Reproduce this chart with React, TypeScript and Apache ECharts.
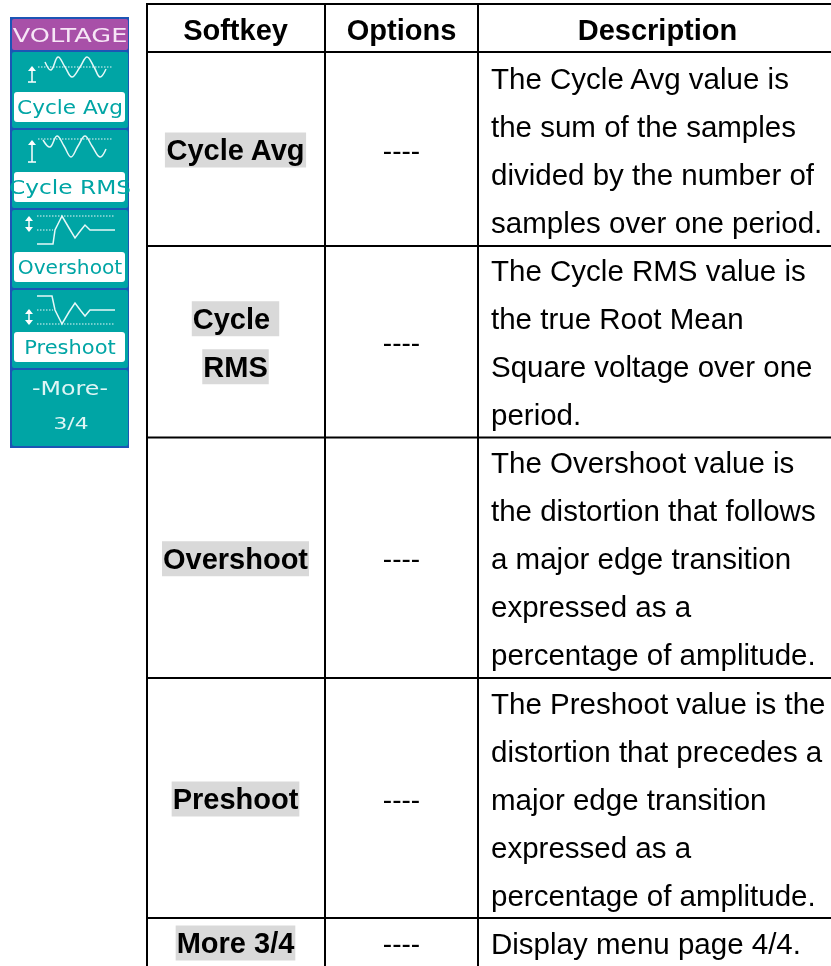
import React, { useEffect, useRef } from "react";
import * as echarts from "echarts";

const headers = ["Softkey", "Options", "Description"];
const softkeys = [["Cycle Avg"], ["Cycle ", "RMS"], ["Overshoot"], ["Preshoot"], ["More 3/4"]];
const optionLabel = "----";
const descriptions = [
  ["The Cycle Avg value is", "the sum of the samples", "divided by the number of", "samples over one period."],
  ["The Cycle RMS value is", "the true Root Mean", "Square voltage over one", "period."],
  ["The Overshoot value is", "the distortion that follows", "a major edge transition", "expressed as a", "percentage of amplitude."],
  ["The Preshoot value is the", "distortion that precedes a", "major edge transition", "expressed as a", "percentage of amplitude."],
  ["Display menu page 4/4."],
];
const menuTitle = "VOLTAGE";
const menuButtons = ["Cycle Avg", "Cycle RMS", "Overshoot", "Preshoot"];
const moreLabels = ["-More-", "3/4"];

const SANS = "'Liberation Sans', Arial, sans-serif";
const MENU = "'DejaVu Sans', sans-serif";
const TEAL = "#00a5a5";
const BLUE = "#1c55b5";

const colX = [147, 325, 478, 831];
const rowY = [4, 52, 246, 437.5, 678, 918, 966];

function App() {
  const ref = useRef<HTMLDivElement>(null);
  useEffect(() => {
    const chart = echarts.init(ref.current!, null, { renderer: "svg" });
    const g: any[] = [];
    const line = (x1: number, y1: number, x2: number, y2: number, stroke = "#000", lineWidth = 2, extra: any = {}) =>
      g.push({ type: "line", shape: { x1, y1, x2, y2 }, style: { stroke, lineWidth, ...extra } });
    const text = (t: string, x: number, y: number, font: string, fill: string, align = "center", extra: any = {}, scaleX = 1) =>
      g.push({ type: "text", x, y, scaleX, style: { text: t, font, fill, align, verticalAlign: "middle", ...extra } });
    const rect = (x: number, y: number, w: number, h: number, fill: string, r = 0) =>
      g.push({ type: "rect", shape: { x, y, width: w, height: h, r }, style: { fill } });
    const poly = (points: number[][], smooth = 0) =>
      g.push({ type: "polyline", shape: { points, smooth }, style: { stroke: "#e6f8f8", lineWidth: 1.5, fill: "none" } });
    const dots = (x1: number, x2: number, y: number) => line(x1, y, x2, y, "#e6f8f8", 1.2, { lineDash: [1.5, 1.5] });
    const arrowUp = (x: number, y1: number, y2: number) => {
      line(x, y1, x, y2, "#fff", 1.5);
      line(x - 4, y2, x + 4, y2, "#fff", 1.5);
      g.push({ type: "polygon", shape: { points: [[x, y1 - 2], [x - 4, y1 + 3], [x + 4, y1 + 3]] }, style: { fill: "#fff" } });
    };
    const arrowBoth = (x: number, y1: number, y2: number) => {
      line(x, y1, x, y2, "#fff", 1.5);
      g.push({ type: "polygon", shape: { points: [[x, y1 - 1], [x - 4, y1 + 4], [x + 4, y1 + 4]] }, style: { fill: "#fff" } });
      g.push({ type: "polygon", shape: { points: [[x, y2 + 1], [x - 4, y2 - 4], [x + 4, y2 - 4]] }, style: { fill: "#fff" } });
    };

    // Softkey menu
    rect(10, 17, 119, 431, BLUE);
    rect(12, 19, 116, 31, "#a850a8", 2);
    text(menuTitle, 70, 35, `20px ${MENU}`, "#f6e6f6", "center", {}, 1.28);
    const tops = [52, 130, 210, 290, 370];
    const bottoms = [128, 208, 288, 368, 446];
    tops.forEach((t, i) => rect(12, t, 116, bottoms[i] - t, TEAL, 2));
    const boxY = [92, 172, 252, 332];
    const boxScale = [1.08, 1.11, 1.01, 1.05];
    menuButtons.forEach((b, i) => {
      rect(14, boxY[i], 111, 30, "#fff", 3);
      text(b, 70, boxY[i] + 15.5, `20px ${MENU}`, TEAL, "center", {}, boxScale[i] * (i === 1 ? 1.05 : 1));
    });
    text(moreLabels[0], 70, 388, `19px ${MENU}`, "#dff5f5", "center", {}, 1.25);
    text(moreLabels[1], 71, 424, `15px ${MENU}`, "#dff5f5", "center", {}, 1.45);

    dots(38, 113, 67);
    poly([[45, 62], [51, 70], [58, 57], [65, 67], [72, 77], [80, 67], [87, 57], [94, 67], [100, 77], [106, 69]], 0.4);
    arrowUp(32, 68, 82);
    dots(38, 113, 139);
    poly([[43, 140], [50, 147], [57, 136], [64, 146], [71, 157], [78, 146], [85, 136], [92, 146], [100, 157], [106, 149]], 0.4);
    arrowUp(32, 142, 162);
    dots(37, 115, 216);
    dots(37, 53, 230);
    poly([[37, 244], [53, 244], [55, 230], [62, 216], [69, 228], [75, 238], [81, 230], [85, 225], [90, 230], [115, 230]]);
    arrowBoth(29, 217, 231);
    dots(37, 53, 310);
    dots(37, 115, 324);
    poly([[37, 296], [52, 296], [55, 310], [62, 324], [69, 312], [75, 303], [81, 311], [85, 316], [90, 310], [115, 310]]);
    arrowBoth(29, 310, 324);

    // Table
    colX.slice(0, 3).forEach((x) => line(x, 3, x, 966, "#000", 2));
    rowY.slice(0, 6).forEach((y) => line(146, y, 831, y, "#000", 2));

    const cx = [(colX[0] + colX[1]) / 2 - 0.5, (colX[1] + colX[2]) / 2, (colX[2] + colX[3]) / 2 + 3];
    headers.forEach((h, i) => text(h, cx[i], 30, `bold 29px ${SANS}`, "#000"));

    softkeys.forEach((labels, r) => {
      const mid = (rowY[r + 1] + rowY[r + 2]) / 2;
      labels.forEach((l, j) => {
        const y = mid + 1 + (j - (labels.length - 1) / 2) * 48;
        text(l, cx[0], y, `bold 29px ${SANS}`, "#000", "center", { backgroundColor: "#d9d9d9", padding: [3, 1, 3, 1] });
      });
      text(optionLabel, cx[1], mid + 1, `28px ${SANS}`, "#000");
    });

    const startY = [78, 270, 462, 703, 943];
    descriptions.forEach((lines, r) =>
      lines.forEach((l, j) => text(l, 491, startY[r] + j * 48, `29.5px ${SANS}`, "#000", "left"))
    );

    chart.setOption({ animation: false, graphic: { elements: g } });
    return () => chart.dispose();
  }, []);
  return <div ref={ref} style={{ position: "fixed", left: 0, top: 0, width: 831, height: 966 }} />;
}

export default App;
